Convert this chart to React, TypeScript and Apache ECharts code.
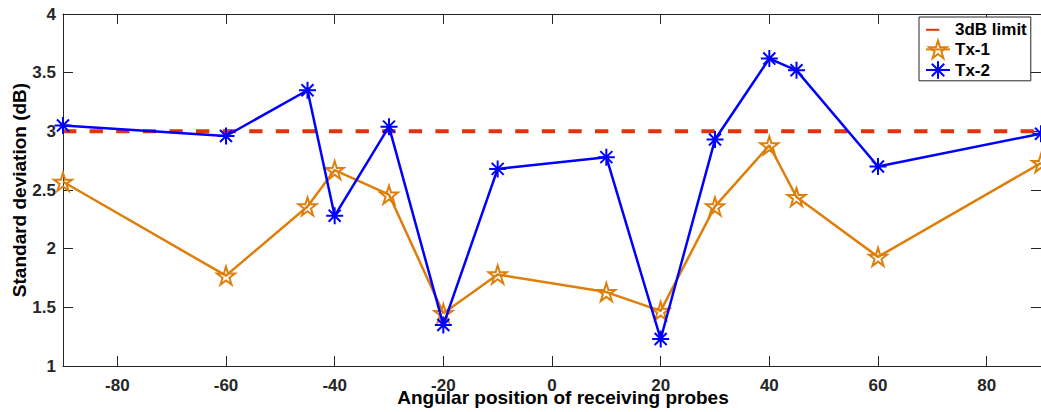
import React, { useEffect, useRef } from "react";
import * as echarts from "echarts";

// Probe angles (degrees) and measured standard deviation (dB) per transmitter
const angles = [-90, -60, -45, -40, -30, -20, -10, 10, 20, 30, 40, 45, 60, 90];
const tx1 = [2.57, 1.77, 2.36, 2.67, 2.46, 1.45, 1.78, 1.63, 1.47, 2.36, 2.88, 2.44, 1.93, 2.73];
const tx2 = [3.05, 2.96, 3.35, 2.28, 3.04, 1.35, 2.68, 2.78, 1.23, 2.93, 3.62, 3.52, 2.7, 2.98];
const limitX = [-90, 90];
const limitDb = 3;

const seriesNames = ["3dB limit", "Tx-1", "Tx-2"];
const xName = "Angular position of receiving probes";
const yName = "Standard deviation (dB)";

const AXIS = "#262626";
const RED = "#E2330A";
const ORANGE = "#DE7F0C";
const BLUE = "#0000FF";
const FONT = "Liberation Sans";

const STAR =
  "path://M10,0L12.245,6.91L19.511,6.91L13.633,11.18L15.878,18.09L10,13.82L4.122,18.09L6.367,11.18L0.489,6.91L7.755,6.91Z";
const ASTERISK =
  "path://M10,0L10,20M0,10L20,10M2.93,2.93L17.07,17.07M2.93,17.07L17.07,2.93";

const pairs = (xs: number[], ys: number[]) => xs.map((x, i) => [x, ys[i]]);

export default function App() {
  const ref = useRef<HTMLDivElement>(null);

  useEffect(() => {
    if (!ref.current) return;
    const chart = echarts.init(ref.current, null, { renderer: "svg" });

    const tickFont = {
      fontFamily: FONT,
      fontWeight: "bold" as const,
      fontSize: 17,
      color: AXIS,
    };
    const nameFont = { fontFamily: FONT, fontWeight: "bold" as const, fontSize: 19, color: "#000" };
    const axisLine = { show: true, onZero: false, lineStyle: { color: AXIS, width: 1 } };
    const axisTick = { show: true, inside: true, length: 10, lineStyle: { color: AXIS, width: 1 } };

    chart.setOption({
      animation: false,
      backgroundColor: "#fff",
      grid: {
        left: 63,
        right: 0,
        top: 14,
        bottom: 46,
        containLabel: false,
        outerBoundsMode: "none",
      },
      legend: {
        data: [
          { name: seriesNames[0], itemStyle: { opacity: 0 } },
          { name: seriesNames[1] },
          { name: seriesNames[2] },
        ],
        orient: "vertical",
        left: 919,
        top: 17,
        padding: [4, 4, 1, 6],
        itemWidth: 24,
        itemHeight: 22,
        itemGap: 1,
        backgroundColor: "#fff",
        borderColor: AXIS,
        borderWidth: 1,
        borderRadius: 0,
        textStyle: { fontFamily: FONT, fontWeight: "bold", fontSize: 17, color: "#000" },
      },
      xAxis: [
        {
          type: "value",
          min: -90,
          max: 90,
          splitNumber: 9,
          name: xName,
          nameLocation: "middle",
          nameGap: 25,
          nameMoveOverlap: false,
          nameTextStyle: { ...nameFont, lineHeight: 13, padding: [0, 0, 0, 22] },
          axisLine,
          axisTick,
          axisLabel: {
            ...tickFont,
            lineHeight: 11,
            margin: 14,
            showMinLabel: false,
            showMaxLabel: false,
          },
          splitLine: { show: false },
        },
        {
          type: "value",
          position: "top",
          min: -90,
          max: 90,
          splitNumber: 9,
          axisLine,
          axisTick,
          axisLabel: { show: false },
          splitLine: { show: false },
        },
      ],
      yAxis: [
        {
          type: "value",
          min: 1,
          max: 4,
          interval: 0.5,
          name: yName,
          nameLocation: "middle",
          nameGap: 34,
          nameMoveOverlap: false,
          nameTextStyle: nameFont,
          axisLine,
          axisTick,
          axisLabel: { ...tickFont, margin: 7 },
          splitLine: { show: false },
        },
        {
          type: "value",
          position: "right",
          min: 1,
          max: 4,
          interval: 0.5,
          axisLine,
          axisTick,
          axisLabel: { show: false },
          splitLine: { show: false },
        },
      ],
      series: [
        {
          name: seriesNames[0],
          type: "line",
          data: pairs(limitX, limitX.map(() => limitDb)),
          symbol: "none",
          lineStyle: { color: RED, width: 4, type: [13.3, 13.3] },
          itemStyle: { color: RED },
          z: 2,
        },
        {
          name: seriesNames[1],
          type: "line",
          data: pairs(angles, tx1),
          symbol: STAR,
          symbolSize: 18,
          lineStyle: { color: ORANGE, width: 2.5 },
          itemStyle: { color: "transparent", borderColor: ORANGE, borderWidth: 2 },
          z: 3,
        },
        {
          name: seriesNames[2],
          type: "line",
          data: pairs(angles, tx2),
          symbol: ASTERISK,
          symbolSize: 17,
          lineStyle: { color: BLUE, width: 2.5 },
          itemStyle: { color: BLUE, borderColor: BLUE, borderWidth: 2 },
          z: 4,
        },
      ],
    });

    return () => chart.dispose();
  }, []);

  return (
    <div
      ref={ref}
      style={{ position: "fixed", left: 0, top: 0, width: 1041, height: 412 }}
    />
  );
}
